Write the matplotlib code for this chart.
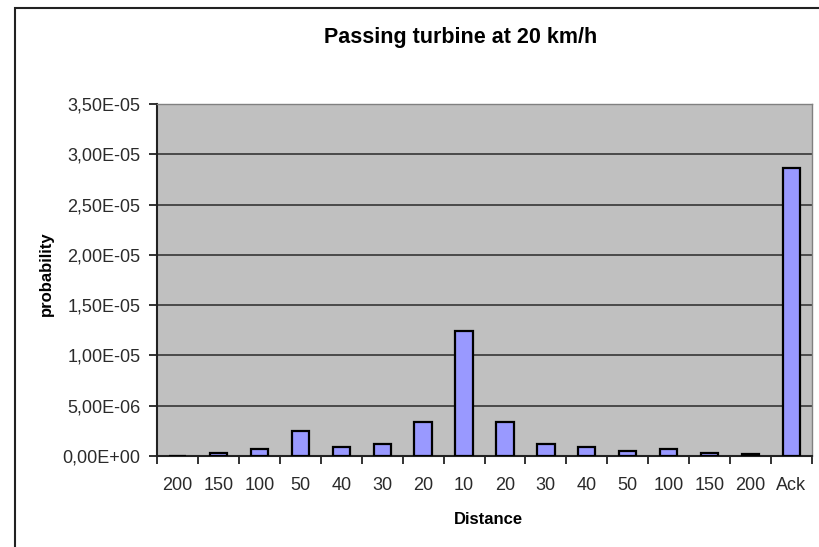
import matplotlib
matplotlib.use("Agg")
import matplotlib.pyplot as plt
from matplotlib.patches import Rectangle
import numpy as np

categories = ["200", "150", "100", "50", "40", "30", "20", "10", "20", "30",
              "40", "50", "100", "150", "200", "Ack"]
probability = [0.0, 0.30e-6, 0.73e-6, 2.45e-6, 0.87e-6, 1.20e-6, 3.35e-6, 12.4e-6,
               3.35e-6, 1.20e-6, 0.87e-6, 0.53e-6, 0.73e-6, 0.30e-6, 0.15e-6, 28.6e-6]
yticks = [0, 5e-6, 1e-5, 1.5e-5, 2e-5, 2.5e-5, 3e-5, 3.5e-5]
ytick_labels = ["0,00E+00", "5,00E-06", "1,00E-05", "1,50E-05", "2,00E-05",
                "2,50E-05", "3,00E-05", "3,50E-05"]

plt.rcParams['font.family'] = ['Liberation Sans', 'DejaVu Sans']

W, H = 819, 547
fig = plt.figure(figsize=(W / 100, H / 100), dpi=100)

# chart area frame
fig.patches.append(Rectangle((15 / W, -0.1), 1.2, 1 - 8 / H + 0.1,
                             transform=fig.transFigure, fill=False,
                             edgecolor='#222222', linewidth=1.5))

left, right, top, bottom = 157, 812, 104, 456
ax = fig.add_axes([left / W, 1 - bottom / H, (right - left) / W, (bottom - top) / H])
ax.set_facecolor('#c0c0c0')

x = np.arange(len(categories))
ax.bar(x, probability, width=0.42, color='#9999ff', edgecolor='black',
       linewidth=1.6, zorder=3)

ax.set_xlim(-0.5, len(categories) - 0.5)
ax.set_ylim(0, 3.5e-5)
ax.set_yticks(yticks)
ax.set_yticklabels(ytick_labels, fontsize=13, color='#2a2a2a')
ax.yaxis.grid(True, color='#404040', linewidth=1.3, zorder=1)
ax.set_axisbelow(True)

ax.set_xticks(x)
ax.set_xticklabels(categories, fontsize=13, color='#2a2a2a')
ax.tick_params(axis='x', length=0, pad=15)
ax.set_xticks(np.arange(len(categories) + 1) - 0.5, minor=True)
ax.tick_params(axis='x', which='minor', length=6, width=1.3, color='#222222')
ax.tick_params(axis='y', length=6, width=1.3, color='#222222', pad=6)

for s in ['left', 'bottom']:
    ax.spines[s].set_color('#222222')
    ax.spines[s].set_linewidth(1.5)
for s in ['top', 'right']:
    ax.spines[s].set_color('#808080')
    ax.spines[s].set_linewidth(1.0)

fig.text(461 / W, 1 - 38 / H, "Passing turbine at 20 km/h", fontsize=15.5,
         fontweight='bold', ha='center', va='center')
fig.text(488 / W, 1 - 519 / H, "Distance", fontsize=12, fontweight='bold',
         ha='center', va='center')
fig.text(46 / W, 1 - 274 / H, "probability", fontsize=12, fontweight='bold',
         ha='center', va='center', rotation=90)

fig.savefig("out.png", dpi=100)
